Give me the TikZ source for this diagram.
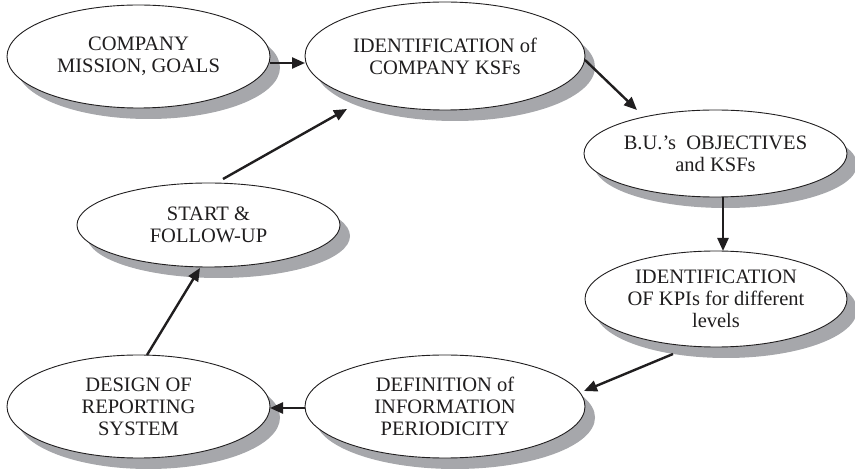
\documentclass[tikz,border=0pt]{standalone}
\usepackage{fontspec}
\setmainfont{Liberation Serif}
\usetikzlibrary{shapes.geometric,shadows,arrows.meta,calc}
\definecolor{shadowgray}{RGB}{166,167,171}
\definecolor{inkline}{RGB}{32,30,31}
\begin{document}
\begin{tikzpicture}[x=1pt,y=1pt,
  stage/.style={ellipse, draw=inkline, line width=0.9pt, fill=white,
    inner xsep=-15pt, inner ysep=0pt, align=center, text=inkline,
    font=\fontsize{20.5}{22}\selectfont,
    drop shadow={shadow xshift=10pt, shadow yshift=-11pt, fill=shadowgray, opacity=1}},
  flow/.style={draw=inkline, line width=2.4pt, -{Triangle[length=13pt,width=11pt]}}]
\useasboundingbox (0,0) rectangle (855,-470);

% stages of the cycle
\node[stage, minimum width=263pt, minimum height=103pt] (mission) at (138.5,-56.5) {COMPANY\\MISSION, GOALS};
\node[stage, minimum width=280pt, minimum height=108pt] (ksf) at (445,-56) {IDENTIFICATION of\\COMPANY KSFs};
\node[stage, minimum width=263pt, minimum height=87pt] (bu) at (715.5,-153.5) {B.U.'s\ \ OBJECTIVES\\and KSFs};
\node[stage, minimum width=262pt, minimum height=96pt] (kpi) at (716,-299) {IDENTIFICATION\\OF KPIs for different\\levels};
\node[stage, minimum width=280pt, minimum height=103pt] (period) at (445,-406.5) {DEFINITION of\\INFORMATION\\PERIODICITY};
\node[stage, minimum width=263pt, minimum height=103pt] (report) at (138.5,-406.5) {DESIGN OF\\REPORTING\\SYSTEM};
\node[stage, minimum width=263pt, minimum height=84pt] (start) at (208.5,-225) {START \&\\FOLLOW-UP};

% connectors
\draw[flow] ($(mission.center)+(131.5,-6.5)$) -- ($(ksf.center)+(-140,-7)$);
\draw[flow] ($(ksf.center)+(140,-4)$) -- ($(bu.center)+(-78.5,43.5)$);
\draw[flow] ($(bu.center)+(7.5,-43.5)$) -- ($(kpi.center)+(7,48)$);
\draw[flow] ($(kpi.center)+(-43,-55)$) -- ($(period.center)+(139,15.5)$);
\draw[flow] ($(period.center)+(-140,-1.5)$) -- ($(report.center)+(131.5,-1.5)$);
\draw[flow] ($(report.center)+(8.5,51.5)$) -- ($(start.center)+(-8.5,-43)$);
\draw[flow] ($(start.center)+(14.5,46)$) -- ($(ksf.center)+(-98,-53)$);
\end{tikzpicture}
\end{document}
